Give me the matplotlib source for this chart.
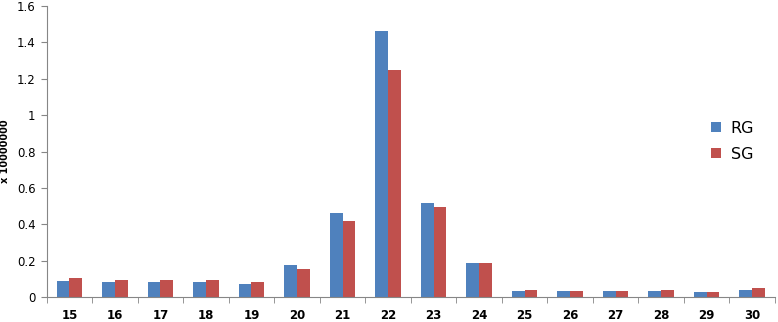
import numpy as np
import matplotlib.pyplot as plt

categories = ['15', '16', '17', '18', '19', '20', '21', '22',
              '23', '24', '25', '26', '27', '28', '29', '30']
rg = [0.085, 0.08, 0.08, 0.08, 0.07, 0.173, 0.46, 1.465,
      0.515, 0.188, 0.035, 0.03, 0.03, 0.035, 0.025, 0.04]
sg = [0.105, 0.095, 0.095, 0.095, 0.08, 0.155, 0.42, 1.247,
      0.495, 0.188, 0.04, 0.035, 0.035, 0.04, 0.025, 0.05]

x = np.arange(len(categories))
w = 0.28

fig = plt.figure(figsize=(7.78, 3.22), dpi=100)
ax = fig.add_axes([0.060, 0.078, 0.936, 0.903])

ax.bar(x - w/2, rg, w, color='#4F81BD', label='RG')
ax.bar(x + w/2, sg, w, color='#C0504D', label='SG')

ax.set_xlim(-0.5, len(categories) - 0.5)
ax.set_ylim(0, 1.6)
ax.set_yticks(np.arange(0, 1.61, 0.2))
ax.set_yticklabels(['0', '0.2', '0.4', '0.6', '0.8', '1', '1.2', '1.4', '1.6'])

ax.set_xticks(x)
ax.set_xticklabels(categories, fontweight='bold')
ax.set_xticks(np.arange(-0.5, len(categories)), minor=True)
ax.tick_params(axis='x', which='major', length=0, pad=9, labelsize=8.5)
ax.tick_params(axis='x', which='minor', length=4, direction='out', color='#868686')
ax.tick_params(axis='y', length=4, color='#868686', labelsize=8.5, pad=4)

for s in ['top', 'right']:
    ax.spines[s].set_visible(False)
for s in ['left', 'bottom']:
    ax.spines[s].set_color('#868686')

ax.set_ylabel('x 10000000', fontsize=7, fontweight='bold')
ax.yaxis.set_label_coords(-0.050, 0.5)

ax.legend(loc='center left', bbox_to_anchor=(0.893, 0.535), frameon=False,
          fontsize=11.5, handlelength=0.6, handleheight=0.6, handletextpad=0.6,
          labelspacing=0.7)

fig.savefig('out.png', dpi=100)
